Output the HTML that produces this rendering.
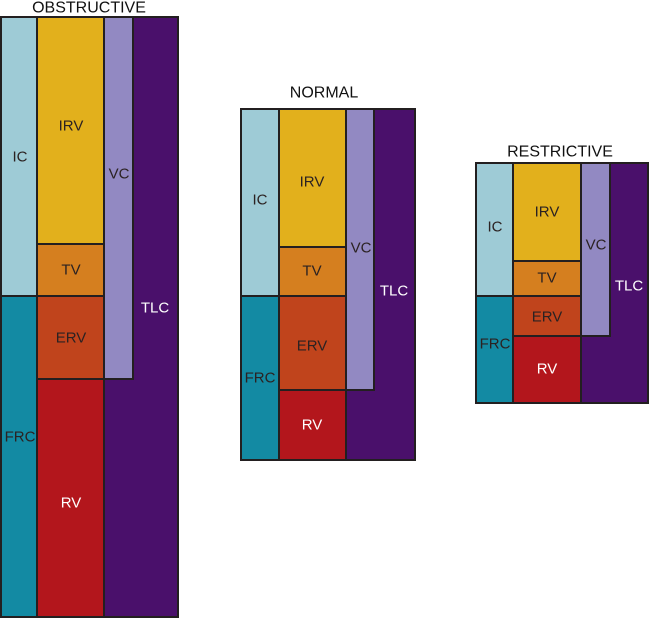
<!DOCTYPE html>
<html><head><meta charset="utf-8"><style>
html,body{margin:0;padding:0;background:#fff;}
svg{display:block}
text{font-family:"Liberation Sans",sans-serif;font-size:15px;text-anchor:middle;dominant-baseline:central;fill:#2b2222}
.w{fill:#fff}
.t{font-size:16px;fill:#111}
rect{stroke:#231f20;stroke-width:2}
</style></head><body>
<svg width="650" height="620" viewBox="0 0 650 620">
<!-- OBSTRUCTIVE -->
<text class="t" x="89" y="8">OBSTRUCTIVE</text>
<rect x="1" y="17" width="177" height="600" fill="#4a106b"/>
<rect x="104" y="17" width="29" height="362" fill="#9289c2"/>
<rect x="1" y="17" width="36" height="279" fill="#9ecbd6"/>
<rect x="1" y="296" width="36" height="321" fill="#138aa3"/>
<rect x="37" y="17" width="67" height="227" fill="#e2b01c"/>
<rect x="37" y="244" width="67" height="52" fill="#d57f1f"/>
<rect x="37" y="296" width="67" height="83" fill="#c0441c"/>
<rect x="37" y="379" width="67" height="238" fill="#b3161c"/>
<text x="20" y="157">IC</text>
<text x="71" y="126">IRV</text>
<text x="119" y="174">VC</text>
<text x="71" y="270">TV</text>
<text x="71" y="338">ERV</text>
<text class="w" x="155" y="308">TLC</text>
<text x="20" y="437">FRC</text>
<text class="w" x="71" y="503">RV</text>
<!-- NORMAL -->
<text class="t" x="324" y="93">NORMAL</text>
<rect x="241" y="109" width="174" height="351" fill="#4a106b"/>
<rect x="346" y="109" width="28" height="281" fill="#9289c2"/>
<rect x="241" y="109" width="38" height="187" fill="#9ecbd6"/>
<rect x="241" y="296" width="38" height="164" fill="#138aa3"/>
<rect x="279" y="109" width="67" height="138" fill="#e2b01c"/>
<rect x="279" y="247" width="67" height="49" fill="#d57f1f"/>
<rect x="279" y="296" width="67" height="94" fill="#c0441c"/>
<rect x="279" y="390" width="67" height="70" fill="#b3161c"/>
<text x="260" y="200">IC</text>
<text x="312" y="182">IRV</text>
<text x="361" y="248">VC</text>
<text x="312" y="271">TV</text>
<text class="w" x="394" y="291">TLC</text>
<text x="312" y="346">ERV</text>
<text x="260" y="378">FRC</text>
<text class="w" x="312" y="425">RV</text>
<!-- RESTRICTIVE -->
<text class="t" x="560" y="152">RESTRICTIVE</text>
<rect x="476" y="163" width="172" height="240" fill="#4a106b"/>
<rect x="581" y="163" width="29" height="173" fill="#9289c2"/>
<rect x="476" y="163" width="37" height="133" fill="#9ecbd6"/>
<rect x="476" y="296" width="37" height="107" fill="#138aa3"/>
<rect x="513" y="163" width="68" height="98" fill="#e2b01c"/>
<rect x="513" y="261" width="68" height="35" fill="#d57f1f"/>
<rect x="513" y="296" width="68" height="40" fill="#c0441c"/>
<rect x="513" y="336" width="68" height="67" fill="#b3161c"/>
<text x="495" y="227">IC</text>
<text x="547" y="212">IRV</text>
<text x="596" y="245">VC</text>
<text x="547" y="278">TV</text>
<text class="w" x="629" y="286">TLC</text>
<text x="547" y="317">ERV</text>
<text x="495" y="344">FRC</text>
<text class="w" x="547" y="369">RV</text>
</svg>
</body></html>
